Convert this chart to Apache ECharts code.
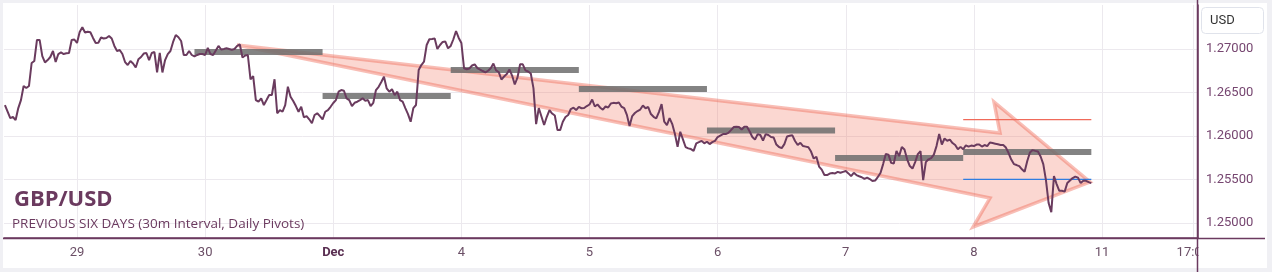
<!DOCTYPE html>
<html><head><meta charset="utf-8">
<script src="https://cdn.jsdelivr.net/npm/echarts@6/dist/echarts.min.js"></script>
<style>
html,body{margin:0;padding:0;background:#f0f0f4;width:1272px;height:272px;overflow:hidden;}
#bg{position:absolute;left:3px;top:3px;width:1264px;height:265px;background:#fff;}
#c{position:absolute;left:0;top:0;width:1272px;height:272px;}
</style></head><body>
<div id="bg"></div><div id="c"></div>
<script>
// 30-minute bars; first bar is 27 bars before Nov 29 00:00 (trading time, weekends removed)
const firstBarOffset = -27;
const barsPerDay = 48;
const prices = [
1.26356,1.26281,1.26206,1.26218,1.26183,1.26321,1.26413,1.26574,1.26551,1.26574,
1.26839,1.26862,1.27104,1.27104,1.26919,1.26845,1.26873,1.26908,1.26977,1.26850,
1.26942,1.26960,1.26942,1.26951,1.26954,1.27104,1.27109,1.27069,1.27196,1.27250,
1.27190,1.27199,1.27192,1.27127,1.27069,1.27072,1.27132,1.27121,1.27127,1.27150,
1.27121,1.27035,1.26977,1.26988,1.26942,1.26850,1.26816,1.26862,1.26833,1.26787,
1.26882,1.26908,1.26948,1.26954,1.26873,1.26954,1.26965,1.26730,1.26954,1.26730,
1.26873,1.26942,1.26977,1.27081,1.27161,1.27135,1.27092,1.26931,1.26931,1.26977,
1.26931,1.26914,1.26931,1.26942,1.26942,1.26931,1.27012,1.26942,1.26931,1.26983,
1.27035,1.26994,1.27000,1.27008,1.27000,1.26992,1.27000,1.27035,1.27052,1.26902,
1.26925,1.26931,1.26652,1.26689,1.26413,1.26394,1.26433,1.26356,1.26413,1.26471,
1.26471,1.26652,1.26261,1.26298,1.26279,1.26356,1.26566,1.26451,1.26402,1.26344,
1.26279,1.26336,1.26215,1.26229,1.26192,1.26146,1.26241,1.26261,1.26229,1.26192,
1.26279,1.26298,1.26336,1.26379,1.26413,1.26509,1.26528,1.26520,1.26433,1.26413,
1.26344,1.26382,1.26394,1.26413,1.26433,1.26405,1.26413,1.26344,1.26382,1.26528,
1.26566,1.26620,1.26681,1.26548,1.26509,1.26537,1.26471,1.26509,1.26413,1.26394,
1.26321,1.26252,1.26164,1.26321,1.26356,1.26758,1.26816,1.26854,1.27046,1.27112,
1.27115,1.27121,1.27000,1.27046,1.27081,1.27086,1.27008,1.27035,1.27112,1.27207,
1.27127,1.27069,1.26778,1.26767,1.26776,1.26810,1.26824,1.26781,1.26764,1.26747,
1.26732,1.26750,1.26778,1.26833,1.26753,1.26735,1.26649,1.26684,1.26712,1.26764,
1.26695,1.26592,1.26670,1.26824,1.26824,1.26755,1.26741,1.26718,1.26551,1.26137,
1.26321,1.26224,1.26126,1.26221,1.26298,1.26258,1.26235,1.26068,1.26068,1.26164,
1.26218,1.26241,1.26310,1.26325,1.26298,1.26335,1.26319,1.26321,1.26344,1.26362,
1.26419,1.26339,1.26362,1.26325,1.26304,1.26339,1.26327,1.26373,1.26381,1.26377,
1.26385,1.26336,1.26321,1.26243,1.26114,1.26229,1.26264,1.26287,1.26304,1.26350,
1.26319,1.26333,1.26252,1.26221,1.26203,1.26275,1.26367,1.26164,1.26126,1.26206,
1.26137,1.26022,1.25876,1.26049,1.25962,1.25873,1.25858,1.25850,1.25830,1.25916,
1.25930,1.25944,1.25916,1.25934,1.25907,1.25930,1.25944,1.25988,1.26005,1.26022,
1.26022,1.26036,1.26068,1.26103,1.26106,1.26103,1.26074,1.26106,1.26106,1.26051,
1.25988,1.25959,1.26022,1.26011,1.25948,1.26022,1.26011,1.25988,1.25982,1.25902,
1.25873,1.25861,1.25907,1.25994,1.26002,1.26008,1.25942,1.25896,1.25922,1.25884,
1.25878,1.25870,1.25821,1.25741,1.25761,1.25649,1.25614,1.25551,1.25551,1.25568,
1.25574,1.25570,1.25588,1.25577,1.25588,1.25597,1.25570,1.25539,1.25577,1.25551,
1.25537,1.25526,1.25508,1.25522,1.25505,1.25482,1.25488,1.25528,1.25574,1.25677,
1.25792,1.25786,1.25691,1.25683,1.25829,1.25769,1.25873,1.25844,1.25732,1.25654,
1.25626,1.25700,1.25792,1.25827,1.25493,1.25700,1.25732,1.25746,1.25786,1.25884,
1.26022,1.25902,1.25971,1.25945,1.25959,1.25919,1.25896,1.25847,1.25875,1.25847,
1.25893,1.25878,1.25890,1.25884,1.25902,1.25902,1.25879,1.25896,1.25884,1.25925,
1.25919,1.25912,1.25905,1.25896,1.25896,1.25867,1.25804,1.25729,1.25677,1.25666,
1.25654,1.25617,1.25588,1.25712,1.25810,1.25838,1.25829,1.25821,1.25764,1.25677,
1.25493,1.25229,1.25125,1.25539,1.25447,1.25370,1.25370,1.25361,1.25459,1.25488,
1.25516,1.25533,1.25522,1.25459,1.25485,1.25485,1.25470,1.25459
];
// x positions in trading days from Nov 29 00:00
const dayTicks = [0, 1, 2, 3, 4, 5, 6, 7, 8, 8.7083];
const dayTickLabels = ['29', '30', 'Dec', '4', '5', '6', '7', '8', '11', '17:00'];
const priceTicks = [1.25, 1.255, 1.26, 1.265, 1.27];
// daily pivot per session (session start, session end)
const pivotStarts = [0.9167, 1.9167, 2.9167, 3.9167, 4.9167, 5.9167, 6.9167];
const pivotEnds   = [1.9167, 2.9167, 3.9167, 4.9167, 5.9167, 6.9167, 7.9167];
const pivotValues = [1.26966, 1.26460, 1.26759, 1.26540, 1.26063, 1.25747, 1.25816];
const levelSession = [6.9167, 7.9167];
const resistanceLevel = 1.26188;
const supportLevel = 1.25502;
// trend arrow outline (day, price)
const arrowPoints = [[1.2488,1.27046],[7.2039,1.26034],[7.1571,1.26391],[7.9063,1.25471],[6.9932,1.24954],[7.1258,1.25287]];

const lineData = prices.map((p, i) => [(i + firstBarOffset) / barsPerDay, p]);
const pivotData = pivotValues.map((v, i) => [pivotStarts[i], pivotEnds[i], v]);

function segItem(color, width) {
  return function (params, api) {
    const a = api.coord([api.value(0), api.value(2)]);
    const b = api.coord([api.value(1), api.value(2)]);
    return { type: 'line', shape: { x1: a[0], y1: a[1], x2: b[0], y2: b[1] },
      style: { stroke: color, lineWidth: width } };
  };
}

const chart = echarts.init(document.getElementById('c'), null, { renderer: 'canvas' });
chart.setOption({
  animation: false,
  backgroundColor: 'transparent',
  grid: { left: 4, right: 74, top: 5, bottom: 34 },
  xAxis: {
    type: 'value', min: -0.5698, max: 8.7492,
    axisLine: { show: true, onZero: false, lineStyle: { color: '#6b3a5f', width: 1.5 } },
    axisTick: { show: false, customValues: dayTicks },
    axisLabel: {
      customValues: dayTicks,
      formatter: function (v) {
        const k = dayTicks.findIndex(t => Math.abs(t - v) < 1e-6);
        const s = k >= 0 ? dayTickLabels[k] : '';
        return s === 'Dec' ? '{b|Dec}' : s;
      },
      rich: { b: { fontWeight: 'bold', color: '#5a2f52', fontSize: 13, fontFamily: 'Roboto' } },
      color: '#6b4f66', fontSize: 13, fontFamily: 'Roboto', margin: 8
    },
    splitLine: { show: true, lineStyle: { color: '#ece9ee', width: 1 } }
  },
  yAxis: {
    type: 'value', position: 'right', min: 1.248276, max: 1.275057, scale: true,
    axisLine: { show: true, onZero: false, lineStyle: { color: '#6b3a5f', width: 1.5 } },
    axisTick: { show: false, customValues: priceTicks },
    axisLabel: {
      customValues: priceTicks,
      formatter: v => v.toFixed(5),
      color: '#764670', fontSize: 13, fontFamily: 'Roboto', margin: 8
    },
    splitLine: { show: true, lineStyle: { color: '#ece9ee', width: 1 } }
  },
  series: [
    {
      type: 'custom', z: 2, silent: true,
      data: [arrowPoints[0]],
      renderItem: function (params, api) {
        return { type: 'polygon', shape: { points: arrowPoints.map(p => api.coord(p)) },
          style: { fill: 'rgba(240,110,90,0.28)', stroke: 'rgba(238,100,80,0.42)', lineWidth: 3.5, lineJoin: 'miter' } };
      }
    },
    {
      type: 'custom', z: 3, silent: true,
      data: pivotData, encode: { x: [0, 1], y: 2 },
      renderItem: segItem('rgba(111,111,111,0.86)', 6)
    },
    {
      type: 'custom', z: 3, silent: true,
      data: [[levelSession[0], levelSession[1], resistanceLevel]], encode: { x: [0, 1], y: 2 },
      renderItem: segItem('#f06a5a', 1.3)
    },
    {
      type: 'custom', z: 3, silent: true,
      data: [[levelSession[0], levelSession[1], supportLevel]], encode: { x: [0, 1], y: 2 },
      renderItem: segItem('#2f7de1', 1.3)
    },
    {
      type: 'line', z: 5, data: lineData, showSymbol: false, symbol: 'none',
      lineStyle: { color: '#6a3b5e', width: 2 }, silent: true
    }
  ],
  graphic: [
    { type: 'rect', z: 100, shape: { x: 1198.5, y: 239.5, width: 68, height: 28 }, style: { fill: '#fff' } },
    { type: 'line', z: 101, shape: { x1: 1197.5, y1: 0, x2: 1197.5, y2: 272 }, style: { stroke: '#6b3a5f', lineWidth: 1.5 } },
    { type: 'line', z: 101, shape: { x1: 3, y1: 238.5, x2: 1265, y2: 238.5 }, style: { stroke: '#6b3a5f', lineWidth: 1.5 } },
    { type: 'rect', z: 101, shape: { x: 1201.5, y: 7.5, width: 62, height: 26, r: 4 }, style: { fill: '#fff', stroke: '#e0e3eb', lineWidth: 1 } },
    { type: 'text', z: 102, style: { x: 1210, y: 21, text: 'USD', font: '13px Roboto', fill: '#333', verticalAlign: 'middle' } },
    { type: 'text', z: 102, style: { x: 14, y: 199.5, text: 'GBP/USD', font: 'bold 22px "Open Sans"', fill: '#6b3a5f', verticalAlign: 'middle' } },
    { type: 'text', z: 102, style: { x: 12, y: 224.5, text: 'PREVIOUS SIX DAYS (30m Interval, Daily Pivots)', font: '13.5px "Open Sans"', fill: '#6b3a5f', verticalAlign: 'middle' } }
  ]
});
</script>
</body></html>
